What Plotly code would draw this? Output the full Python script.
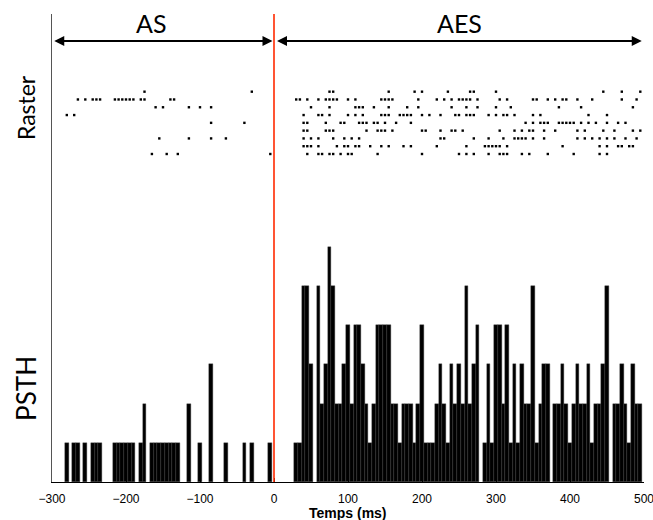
import plotly.graph_objects as go

# ---------------- data ----------------
# PSTH: bin centres (ms, 5 ms bins) and spike counts
psth_ms = [-280, -270, -265, -255, -245, -240, -235, -215, -210, -205, -200, -195, -190,
           -180, -175, -165, -160, -155, -150, -145, -140, -135, -130, -115, -100, -85,
           -65, -40, -30, -5,
           30, 35, 40, 45, 50, 60, 65, 70, 75, 80, 85, 90, 95, 100, 105, 110, 115, 120,
           125, 130, 135, 140, 145, 150, 155, 160, 165, 170, 175, 180, 185, 190, 195, 200,
           205, 210, 215, 220, 225, 230, 235, 240, 245, 250, 255, 260, 265, 270, 275,
           285, 290, 295, 300, 305, 310, 315, 320, 325, 330, 335, 340, 345, 350, 355, 360,
           365, 370, 380, 385, 390, 395, 400, 405, 410, 415, 420, 425, 430, 435, 440, 445,
           450, 460, 465, 470, 475, 480, 485, 490, 495]
psth_counts = [1, 1, 1, 1, 1, 1, 1, 1, 1, 1, 1, 1, 1,
               1, 2, 1, 1, 1, 1, 1, 1, 1, 1, 2, 1, 3,
               1, 1, 1, 1,
               1, 1, 5, 5, 3, 5, 2, 3, 6, 5, 2, 2, 3, 4, 2, 4, 4, 3,
               2, 1, 2, 4, 4, 4, 4, 2, 2, 1, 2, 2, 2, 1, 2, 4,
               1, 1, 1, 2, 3, 2, 1, 3, 2, 3, 2, 5, 2, 3, 4,
               1, 3, 1, 4, 4, 2, 4, 1, 3, 1, 3, 2, 2, 5, 1, 2,
               3, 3, 2, 2, 3, 2, 1, 2, 3, 2, 2, 3, 1, 2, 2, 3,
               5, 2, 2, 3, 2, 1, 3, 2, 2]

# Raster: spike times (ms) for each of the 9 trials (top to bottom)
trial_1 = [-175, -30, 75, 80, 155, 190, 200, 235, 265, 270, 300, 445, 470, 495]
trial_2 = [-265, -255, -245, -240, -235, -215, -210, -205, -200, -195, -190, -180, -175,
           -140, -135, 30, 35, 45, 60, 70, 75, 80, 85, 100, 110, 145, 150, 155, 160, 195,
           220, 230, 240, 250, 255, 260, 265, 275, 305, 315, 350, 355, 370, 380, 390, 395,
           410, 430, 470, 490]
trial_3 = [-160, -150, -115, -100, -85, 50, 75, 110, 115, 120, 135, 155, 180, 195, 240,
           260, 275, 300, 320, 385, 415, 485]
trial_4 = [-280, -270, 40, 60, 65, 75, 100, 110, 120, 145, 150, 155, 170, 175, 180, 185,
           200, 210, 225, 245, 250, 260, 265, 270, 290, 300, 310, 315, 325, 350, 360, 425, 450]
trial_5 = [-85, -40, 40, 45, 70, 90, 95, 115, 120, 125, 135, 140, 150, 165, 185, 340, 350,
           360, 365, 370, 385, 390, 395, 400, 405, 415, 425, 435, 450, 465, 475]
trial_6 = [40, 45, 70, 75, 80, 125, 140, 145, 150, 160, 200, 205, 225, 240, 245, 255, 305,
           325, 335, 345, 350, 365, 380, 410, 420, 445, 460, 485, 495]
trial_7 = [-155, -115, -85, -65, 40, 50, 60, 80, 95, 105, 115, 225, 230, 270, 290, 310,
           325, 330, 335, 340, 350, 365, 410, 420, 430, 440, 450, 460, 475, 490]
trial_8 = [40, 45, 50, 60, 85, 95, 100, 110, 115, 130, 145, 155, 175, 185, 220, 260, 285,
           290, 295, 300, 305, 315, 390, 440, 450, 465, 470, 480, 485]
trial_9 = [-165, -145, -130, -5, 45, 60, 65, 75, 80, 90, 100, 105, 140, 200, 250, 260,
           270, 290, 305, 310, 315, 335, 345, 370, 405, 440, 450]
trials = [trial_1, trial_2, trial_3, trial_4, trial_5, trial_6, trial_7, trial_8, trial_9]

x_ticks = [-300, -200, -100, 0, 100, 200, 300, 400, 500]
x_tick_labels = ["\u2212300", "\u2212200", "\u2212100", "0", "100", "200", "300", "400", "500"]
periods = ["AS", "AES"]

# ---------------- figure ----------------
fig = go.Figure()

fig.add_trace(go.Bar(
    x=psth_ms, y=psth_counts, width=5,
    marker=dict(color="black", line=dict(width=0.4, color="#3a3a3a")),
    yaxis="y", showlegend=False, hoverinfo="skip"))

for i, spikes in enumerate(trials):
    fig.add_trace(go.Scatter(
        x=spikes, y=[i + 1] * len(spikes), mode="markers",
        marker=dict(symbol="square", size=2.4, color="black", line=dict(width=0)),
        yaxis="y2", showlegend=False, hoverinfo="skip"))

# stimulus onset line
fig.add_shape(type="line", xref="x", yref="paper", x0=0, x1=0, y0=0, y1=1,
              line=dict(color="#ff2a00", width=1.6))

arrow_y = 0.9423
# AS arrow
fig.add_annotation(x=-2, y=arrow_y, ax=-299, ay=arrow_y, xref="x", yref="y domain",
                   axref="x", ayref="y domain", text="", showarrow=True,
                   arrowhead=2, arrowside="end+start", arrowsize=1, arrowwidth=2,
                   arrowcolor="black")
# AES arrow
fig.add_annotation(x=497, y=arrow_y, ax=2, ay=arrow_y, xref="x", yref="y domain",
                   axref="x", ayref="y domain", text="", showarrow=True,
                   arrowhead=2, arrowside="end+start", arrowsize=1, arrowwidth=2,
                   arrowcolor="black")

label_font = dict(family="Lato, Open Sans, sans-serif", size=25, color="black")
fig.add_annotation(x=-165, y=0.981, xref="x", yref="paper", text=periods[0],
                   showarrow=False, font=label_font, xanchor="center", yanchor="middle")
fig.add_annotation(x=250, y=0.981, xref="x", yref="paper", text=periods[1],
                   showarrow=False, font=label_font, xanchor="center", yanchor="middle")

fig.add_annotation(x=-0.044, y=0.801, xref="paper", yref="paper", text="Raster",
                   textangle=-90, showarrow=False, xanchor="center", yanchor="middle",
                   font=dict(family="Lato, Open Sans, sans-serif", size=23, color="black"))
fig.add_annotation(x=-0.044, y=0.201, xref="paper", yref="paper", text="PSTH",
                   textangle=-90, showarrow=False, xanchor="center", yanchor="middle",
                   font=dict(family="Lato, Open Sans, sans-serif", size=26, color="black"))

fig.add_annotation(x=0.5, y=-0.066, xref="paper", yref="paper", text="<b>Temps (ms)</b>",
                   showarrow=False, xanchor="center", yanchor="middle",
                   font=dict(family="Liberation Sans, Arial, sans-serif", size=14, color="black"))

fig.update_layout(
    width=653, height=520,
    margin=dict(l=52, r=9, t=14, b=38, autoexpand=False),
    paper_bgcolor="white", plot_bgcolor="white",
    bargap=0,
    font=dict(family="Liberation Sans, Arial, sans-serif", size=12, color="black"),
    xaxis=dict(range=[-300, 500], tickvals=x_ticks, ticktext=x_tick_labels,
               showline=True, linecolor="black", linewidth=1,
               ticks="inside", ticklen=4, tickcolor="black",
               showgrid=False, zeroline=False, ticklabelstandoff=6,
               ticklabeloverflow="allow", automargin=False),
    yaxis=dict(range=[0, 11.94], showline=True, linecolor="#555555", linewidth=1,
               showticklabels=False, ticks="", showgrid=False, zeroline=False,
               automargin=False),
    yaxis2=dict(range=[51.1, -8.97], overlaying="y", visible=False,
                showgrid=False, zeroline=False),
)

fig.write_html("out.html")
